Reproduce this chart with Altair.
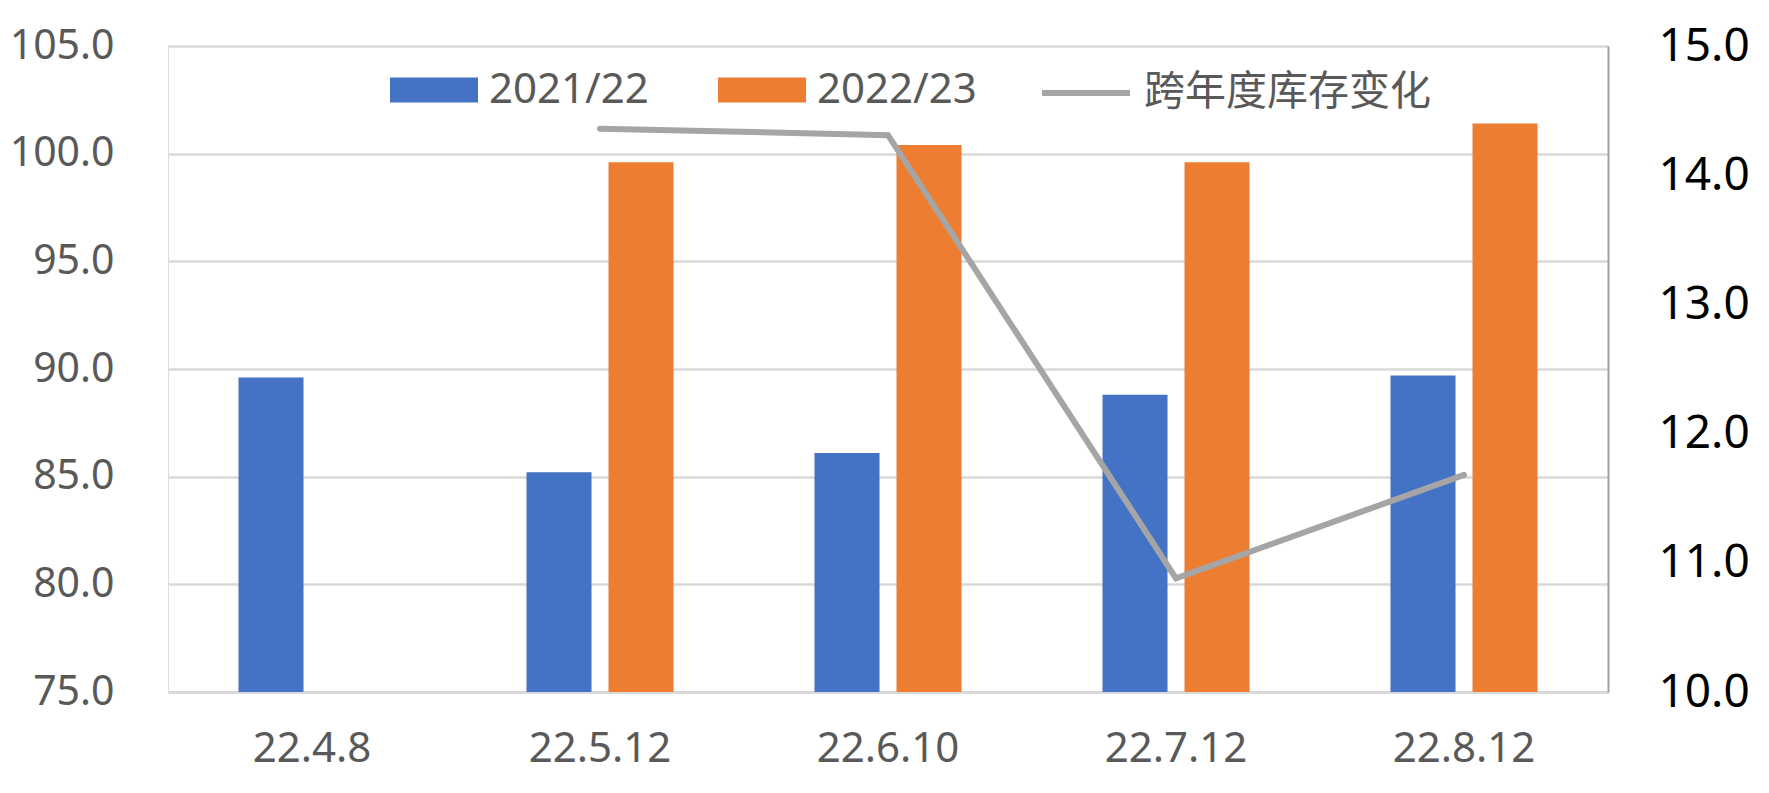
import altair as alt
import pandas as pd

# ---- data ----
dates = ["22.4.8", "22.5.12", "22.6.10", "22.7.12", "22.8.12"]
series_names = ["2021/22", "2022/23"]
stock_2122 = [89.6, 85.2, 86.1, 88.8, 89.7]
stock_2223 = [None, 99.6, 100.4, 99.6, 101.4]
line_name = "跨年度库存变化"
stock_change = [None, 14.36, 14.31, 10.88, 11.68]
left_ticks = [75, 80, 85, 90, 95, 100, 105]
right_ticks = [10, 11, 12, 13, 14, 15]
bar_colors = ["#4472C4", "#ED7D31"]
line_color = "#A5A5A5"

rows = []
for d, a, b in zip(dates, stock_2122, stock_2223):
    if a is not None:
        rows.append({"date": d, "series": series_names[0], "value": a})
    if b is not None:
        rows.append({"date": d, "series": series_names[1], "value": b})
bars_df = pd.DataFrame(rows)
line_df = pd.DataFrame(
    [{"date": d, "name": line_name, "change": c} for d, c in zip(dates, stock_change) if c is not None]
)

FONT = "Noto Sans, Noto Sans CJK SC, sans-serif"

x_enc = alt.X(
    "date:N",
    sort=dates,
    scale=alt.Scale(domain=dates, paddingInner=0, paddingOuter=0),
    axis=alt.Axis(
        title=None, labelAngle=0, labelFontSize=42, labelColor="#595959", labelFont=FONT,
        domainColor="#D9D9D9", domainWidth=3, ticks=False, grid=False,
        labelPadding=56, labelBaseline="middle",
    ),
)

bars = alt.Chart(bars_df).mark_bar().encode(
    x=x_enc,
    xOffset=alt.XOffset(
        "series:N", sort=series_names,
        scale=alt.Scale(domain=series_names, paddingInner=0.207, paddingOuter=0.86),
    ),
    y=alt.Y(
        "value:Q",
        scale=alt.Scale(domain=[75, 105], nice=False, zero=False),
        axis=alt.Axis(
            title=None, values=left_ticks, format=".1f", labelFontSize=41, labelColor="#595959",
            labelFont=FONT, grid=True, gridColor="#D9D9D9", gridWidth=2.5, domain=False,
            ticks=False, labelPadding=54,
        ),
    ),
    y2=alt.datum(75),
    color=alt.Color(
        "series:N",
        scale=alt.Scale(domain=series_names, range=bar_colors),
        legend=alt.Legend(
            title=None, orient="none", legendX=222, legendY=0, direction="horizontal",
            symbolType="M-1,-0.284L1,-0.284L1,0.284L-1,0.284Z", symbolSize=7744,
            symbolStrokeWidth=0, labelFontSize=42, labelFont=FONT, labelColor="#595959",
            labelOffset=11, columnPadding=69, padding=0, labelLimit=500,
        ),
    ),
)

line = alt.Chart(line_df).mark_line(strokeWidth=6, strokeCap="round").encode(
    x=x_enc,
    y=alt.Y(
        "change:Q",
        scale=alt.Scale(domain=[10, 15], nice=False, zero=False),
        axis=alt.Axis(
            title=None, orient="right", values=right_ticks, format=".1f", labelFontSize=46,
            labelColor="#000000", labelFont=FONT, grid=False, ticks=False, domain=True,
            domainColor="#A0A0A0", domainWidth=2, labelPadding=50,
        ),
    ),
    stroke=alt.Stroke(
        "name:N",
        scale=alt.Scale(domain=[line_name], range=[line_color]),
        legend=alt.Legend(
            title=None, orient="none", legendX=871, legendY=0, direction="horizontal",
            symbolType="stroke", symbolSize=7744, symbolStrokeWidth=6,
            labelFontSize=41, labelFont=FONT, labelColor="#595959",
            labelOffset=11, padding=0, labelLimit=500,
        ),
    ),
)

chart = (
    alt.layer(bars, line)
    .resolve_scale(y="independent")
    .properties(
        width=1440, height=646,
        autosize=alt.AutoSizeParams(type="none"),
        padding={"left": 160, "top": 38, "right": 153, "bottom": 90},
    )
    .configure_view(stroke=None)
    .configure(background="white")
)

chart.save("out.html", embed_options={"renderer": "svg", "actions": False})
